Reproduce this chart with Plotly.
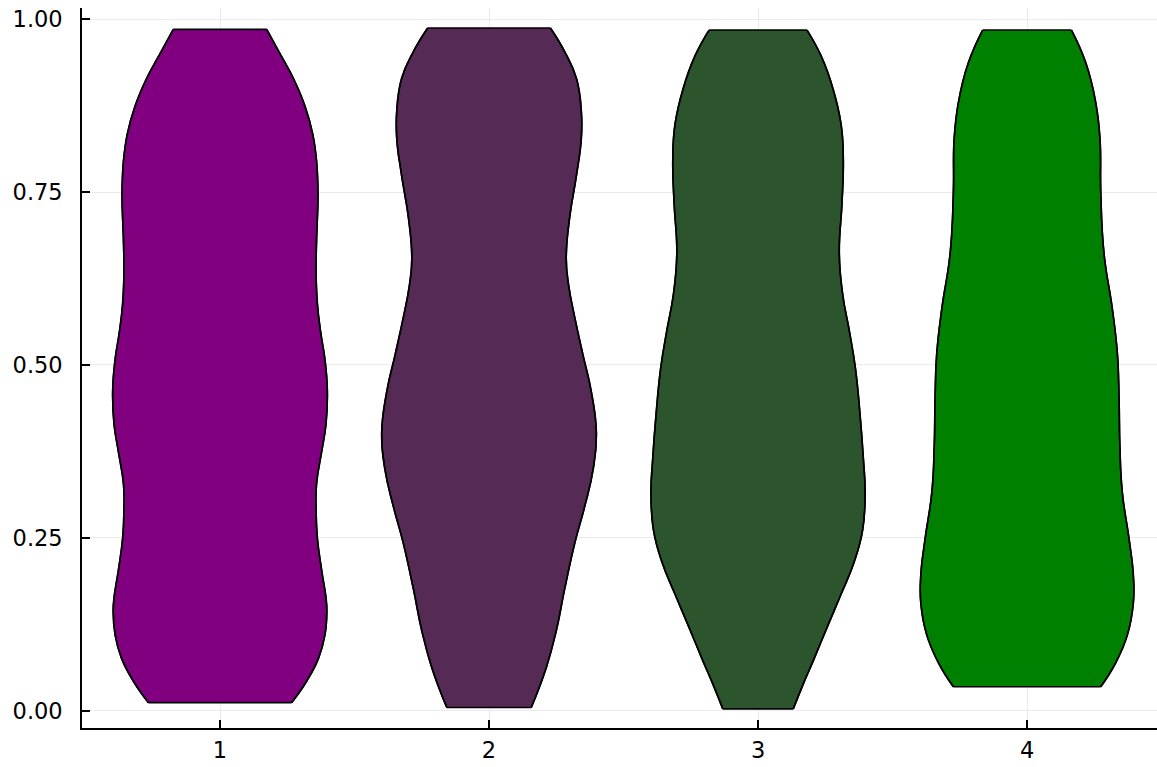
import plotly.graph_objects as go

# category positions
categories = [1, 2, 3, 4]
colors = ["#800080", "#552B55", "#2C552E", "#008000"]

# density profiles: y level -> half width (in x units)
y1 = [0.012, 0.043, 0.076, 0.110, 0.143, 0.163, 0.203, 0.249, 0.292, 0.329, 0.375, 0.415, 0.462,
      0.508, 0.548, 0.588, 0.635, 0.681, 0.748, 0.794, 0.834, 0.874, 0.914, 0.950, 0.985]
w1 = [0.266, 0.322, 0.366, 0.390, 0.397, 0.394, 0.378, 0.362, 0.357, 0.359, 0.378, 0.394, 0.399,
      0.390, 0.374, 0.362, 0.357, 0.359, 0.364, 0.359, 0.3445, 0.316, 0.273, 0.223, 0.1735]

y2 = [0.005, 0.063, 0.116, 0.176, 0.243, 0.296, 0.349, 0.402, 0.462, 0.515, 0.568, 0.615, 0.654,
      0.714, 0.774, 0.827, 0.867, 0.914, 0.953, 0.987]
w2 = [0.157, 0.213, 0.250, 0.281, 0.319, 0.356, 0.387, 0.399, 0.380, 0.349, 0.319, 0.296, 0.287,
      0.300, 0.325, 0.343, 0.343, 0.325, 0.281, 0.228]

y3 = [0.003, 0.037, 0.076, 0.123, 0.169, 0.216, 0.262, 0.316, 0.362, 0.429, 0.495, 0.548, 0.601,
      0.661, 0.734, 0.794, 0.847, 0.900, 0.947, 0.984]
w3 = [0.131, 0.166, 0.209, 0.259, 0.309, 0.358, 0.389, 0.398, 0.392, 0.379, 0.362, 0.340, 0.315,
      0.302, 0.312, 0.317, 0.309, 0.278, 0.234, 0.182]

y4 = [0.035, 0.070, 0.110, 0.156, 0.196, 0.249, 0.316, 0.382, 0.449, 0.515, 0.581, 0.661, 0.748,
      0.827, 0.880, 0.937, 0.984]
w4 = [0.274, 0.330, 0.373, 0.395, 0.395, 0.379, 0.354, 0.345, 0.342, 0.336, 0.317, 0.286, 0.274,
      0.271, 0.255, 0.218, 0.165]

profiles = [(y1, w1), (y2, w2), (y3, w3), (y4, w4)]

y_ticks = [0.0, 0.25, 0.5, 0.75, 1.0]

LW = 1.6
SPLINE = dict(color="black", width=LW, shape="spline", smoothing=1.3)
fig = go.Figure()
for cx, (ys, ws), col in zip(categories, profiles, colors):
    # left edge
    fig.add_trace(go.Scatter(
        x=[cx - w for w in ws], y=ys, mode="lines", line=SPLINE,
        showlegend=False, hoverinfo="skip",
    ))
    # right edge, filled horizontally to the left edge
    fig.add_trace(go.Scatter(
        x=[cx + w for w in ws], y=ys, mode="lines", line=SPLINE,
        fill="tonextx", fillcolor=col,
        showlegend=False, hoverinfo="skip",
    ))
    # flat top and bottom edges
    for i in (0, -1):
        fig.add_trace(go.Scatter(
            x=[cx - ws[i], cx + ws[i]], y=[ys[i], ys[i]], mode="lines",
            line=dict(color="black", width=LW),
            showlegend=False, hoverinfo="skip",
        ))
# redraw the edges on top of the fills so outlines are not covered
for cx, (ys, ws), col in zip(categories, profiles, colors):
    for sgn in (-1, 1):
        fig.add_trace(go.Scatter(
            x=[cx + sgn * w for w in ws], y=ys, mode="lines", line=SPLINE,
            showlegend=False, hoverinfo="skip",
        ))

font = dict(family="DejaVu Sans", size=22.5, color="black")
fig.update_layout(
    width=1157, height=767,
    margin=dict(l=82, r=0, t=8, b=39),
    plot_bgcolor="white", paper_bgcolor="white",
    font=font,
    showlegend=False,
)
fig.update_xaxes(
    range=[0.487, 4.483], tickvals=categories, ticktext=[str(c) for c in categories],
    showgrid=True, gridcolor="#ebebeb", gridwidth=1,
    showline=True, linecolor="black", linewidth=LW,
    ticks="inside", ticklen=8, tickcolor="black", tickwidth=LW,
    zeroline=False, ticklabelstandoff=1, tickfont=font, automargin=False,
)
fig.update_yaxes(
    range=[-0.0246, 1.0159], tickvals=y_ticks, tickformat=".2f",
    showgrid=True, gridcolor="#ebebeb", gridwidth=1,
    showline=True, linecolor="black", linewidth=LW,
    ticks="inside", ticklen=8, tickcolor="black", tickwidth=LW,
    zeroline=False, ticklabelstandoff=13, tickfont=font, automargin=False,
)
# remove the default page margin so the figure sits at the window's top-left corner
fig.write_html(
    "out.html",
    config={"displayModeBar": False},
    post_script="document.body.style.margin='0';document.body.style.overflow='hidden';",
)
